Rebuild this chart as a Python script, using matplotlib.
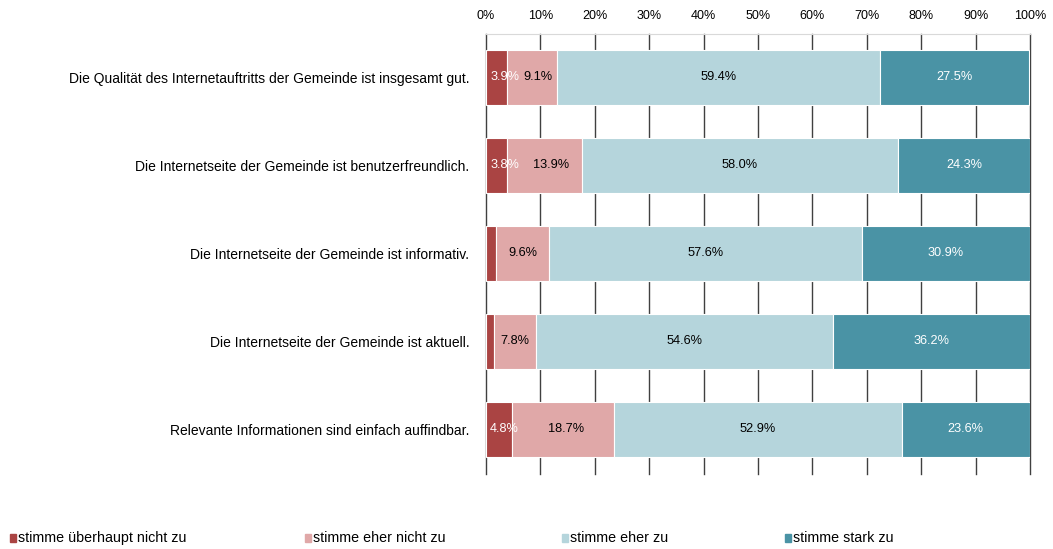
import matplotlib
matplotlib.use("Agg")
import matplotlib.pyplot as plt
import numpy as np

plt.rcParams['font.family'] = ['Liberation Sans', 'DejaVu Sans']

categories = [
    "Die Qualität des Internetauftritts der Gemeinde ist insgesamt gut.",
    "Die Internetseite der Gemeinde ist benutzerfreundlich.",
    "Die Internetseite der Gemeinde ist informativ.",
    "Die Internetseite der Gemeinde ist aktuell.",
    "Relevante Informationen sind einfach auffindbar.",
]
series_names = ["stimme überhaupt nicht zu", "stimme eher nicht zu", "stimme eher zu", "stimme stark zu"]
v_ueberhaupt_nicht = [3.9, 3.8, 1.9, 1.4, 4.8]
v_eher_nicht = [9.1, 13.9, 9.6, 7.8, 18.7]
v_eher = [59.4, 58.0, 57.6, 54.6, 52.9]
v_stark = [27.5, 24.3, 30.9, 36.2, 23.6]
show_label = [
    [True, True, False, False, True],
    [True] * 5,
    [True] * 5,
    [True] * 5,
]
xticks = list(range(0, 101, 10))

colors = ["#AA4443", "#E0A8A8", "#B5D5DC", "#4A93A5"]
text_colors = ["white", "black", "black", "white"]
FS_CAT = 10
FS_VAL = 9.2
FS_TICK = 9
FS_LEG = 10.3

fig = plt.figure(figsize=(10.53, 5.49), dpi=100)
ax = fig.add_axes([486/1053, 1 - 473.5/549, 544/1053, 440/549])

series = [v_ueberhaupt_nicht, v_eher_nicht, v_eher, v_stark]
y = np.arange(len(categories))
left = np.zeros(len(categories))
lefts = []
for i, vals in enumerate(series):
    vals = np.array(vals)
    ax.barh(y, vals, left=left, height=0.625, color=colors[i],
            edgecolor="white", linewidth=0.8, zorder=3, label=series_names[i])
    lefts.append(left.copy())
    left += vals

ax.set_xlim(0, 100)
ax.set_ylim(len(categories) - 0.5, -0.5)

renderer = fig.canvas.get_renderer()
inv = ax.transData.inverted()
for j in range(len(categories)):
    dark_end = None
    for i, vals in enumerate(series):
        if not show_label[i][j]:
            continue
        v = vals[j]
        l = lefts[i][j]
        if i == 0:
            t = ax.annotate(f"{v:.1f}%", (l, y[j]), xytext=(3, 0), textcoords="offset points",
                            ha="left", va="center", color=text_colors[i], fontsize=FS_VAL, zorder=4)
            bb = t.get_window_extent(renderer)
            dark_end = inv.transform((bb.x1, bb.y0))[0]
        elif i == 1 and dark_end is not None:
            cx = (dark_end + l + v) / 2
            ax.text(cx, y[j], f"{v:.1f}%", ha="center", va="center",
                    color=text_colors[i], fontsize=FS_VAL, zorder=4)
        else:
            ax.text(l + v / 2, y[j], f"{v:.1f}%", ha="center", va="center",
                    color=text_colors[i], fontsize=FS_VAL, zorder=4)

ax.set_xticks(xticks)
ax.set_xticklabels([f"{t}%" for t in xticks], fontsize=FS_TICK)
ax.xaxis.tick_top()
ax.tick_params(axis="x", length=0, pad=8)
ax.set_yticks(y)
ax.set_yticklabels(categories, fontsize=FS_CAT)
ax.tick_params(axis="y", length=0, pad=12)
for t in xticks:
    ax.axvline(t, color="#404040", linewidth=1.0, zorder=0, clip_on=False)
for s in ["left", "right", "bottom"]:
    ax.spines[s].set_visible(False)
ax.spines["top"].set_color("#D9D9D9")
ax.spines["top"].set_zorder(1)

leg_x = [10, 305, 562, 785]
for i, name in enumerate(series_names):
    fig.patches.append(plt.Rectangle((leg_x[i] / 1053, 1 - 542/549), 6/1053, 8/549,
                                     transform=fig.transFigure, color=colors[i], figure=fig))
    fig.text((leg_x[i] + 8) / 1053, 1 - 538/549, name, fontsize=FS_LEG, va="center", ha="left")

fig.savefig("out.png", dpi=100)
